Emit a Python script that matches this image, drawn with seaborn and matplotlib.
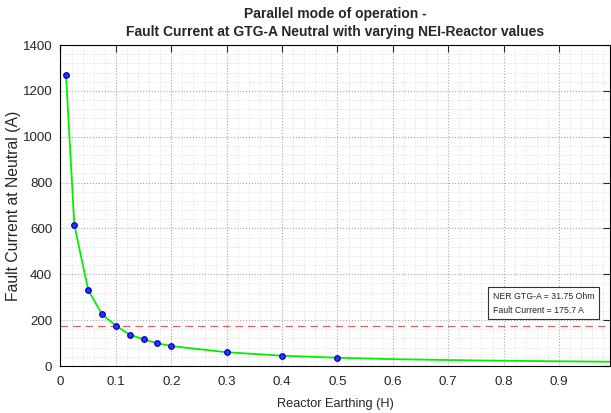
import numpy as np
import pandas as pd
import matplotlib
matplotlib.use("Agg")
import matplotlib.pyplot as plt
from matplotlib.ticker import MultipleLocator, AutoMinorLocator
import seaborn as sns

# measured points (markers)
reactor_h = [0.01, 0.025, 0.05, 0.075, 0.1, 0.125, 0.15, 0.175, 0.2, 0.3, 0.4, 0.5]
fault_a = [1268, 615, 332, 225, 175.7, 137, 116, 99, 87, 60, 45, 36]

# rest of the curve (line only)
tail_h = [0.6, 0.7, 0.8, 0.9, 1.0]
tail_a = [30, 26, 23, 20.5, 18.5]

ref_current = 175.7
box_lines = ["NER GTG-A = 31.75 Ohm", "Fault Current = 175.7 A"]
xtick_labels = ['0', '0.1', '0.2', '0.3', '0.4', '0.5', '0.6', '0.7', '0.8', '0.9']

sns.set_style("white")
plt.rcParams['font.family'] = ['Liberation Sans', 'DejaVu Sans']

df_pts = pd.DataFrame({'L': reactor_h, 'I': fault_a})
df_line = pd.DataFrame({'L': reactor_h + tail_h, 'I': fault_a + tail_a})

fig = plt.figure(figsize=(6.11, 4.13), dpi=100)
ax = fig.add_axes([0.099, 0.1138, 0.8993, 0.7772])

sns.lineplot(data=df_line, x='L', y='I', ax=ax, color='#00f000', linewidth=1.3, zorder=3)
sns.scatterplot(data=df_pts, x='L', y='I', ax=ax, color='#3030ff', edgecolor='#0000cc',
                s=16, linewidth=0.9, zorder=4)
ax.axhline(ref_current, color='#e06060', linestyle='--', linewidth=0.9, dashes=(6, 4), zorder=2)

ax.set_xlim(0, 0.992)
ax.set_ylim(0, 1400)
ax.yaxis.set_major_locator(MultipleLocator(200))
ax.set_xticks(np.arange(0, 1.0, 0.1))
ax.set_xticklabels(xtick_labels)
ax.xaxis.set_minor_locator(AutoMinorLocator(5))
ax.yaxis.set_minor_locator(AutoMinorLocator(5))

ax.grid(which='major', color='#a8a8a8', linestyle=':', linewidth=0.8)
ax.grid(which='minor', color='#d8d8d8', linestyle=':', linewidth=0.6)
ax.tick_params(which='major', direction='in', length=5, width=0.8, top=True, right=True,
               labelsize=9.6, pad=7.5)
ax.tick_params(axis='y', which='major', pad=6)
ax.tick_params(which='minor', length=0)
for sp in ax.spines.values():
    sp.set_color('black')
    sp.set_linewidth(0.8)

ax.set_xlabel('Reactor Earthing (H)', fontsize=9.2, labelpad=7)
ax.set_ylabel('Fault Current at Neutral (A)', fontsize=11.3, labelpad=1.2)

fig.text(0.549, 0.967, 'Parallel mode of operation -', ha='center', va='center',
         fontsize=10, fontweight='bold')
fig.text(0.549, 0.9225, 'Fault Current at GTG-A Neutral with varying NEI-Reactor values',
         ha='center', va='center', fontsize=10, fontweight='bold')

ax.text(0.787, 0.195, '\n'.join(box_lines), transform=ax.transAxes, fontsize=6.3,
        ha='left', va='center', linespacing=1.6,
        bbox=dict(boxstyle='square,pad=0.55', facecolor='white', edgecolor='#333333', linewidth=0.8),
        zorder=5)

fig.savefig('out.png', dpi=100)
